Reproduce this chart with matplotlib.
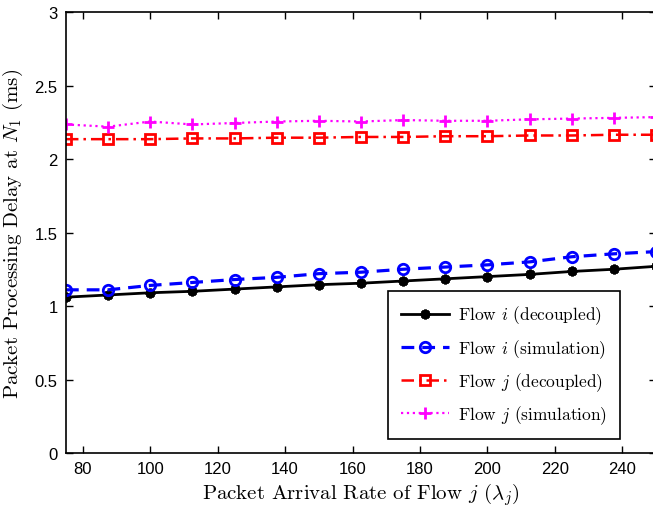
import matplotlib.pyplot as plt
import numpy as np

plt.rcParams['mathtext.fontset'] = 'cm'
plt.rcParams['axes.formatter.use_mathtext'] = False

# data
rate = [75, 87.5, 100, 112.5, 125, 137.5, 150, 162.5, 175, 187.5, 200, 212.5, 225, 237.5, 250]
flow_i_dec = [1.06, 1.075, 1.09, 1.10, 1.115, 1.13, 1.145, 1.155, 1.17, 1.185, 1.20, 1.215, 1.235, 1.25, 1.27]
flow_i_sim = [1.11, 1.11, 1.14, 1.16, 1.18, 1.195, 1.22, 1.23, 1.25, 1.265, 1.28, 1.30, 1.335, 1.355, 1.37]
flow_j_dec = [2.135, 2.135, 2.135, 2.14, 2.14, 2.145, 2.145, 2.15, 2.15, 2.155, 2.155, 2.16, 2.16, 2.165, 2.165]
flow_j_sim = [2.235, 2.22, 2.255, 2.235, 2.245, 2.255, 2.26, 2.255, 2.265, 2.26, 2.26, 2.27, 2.275, 2.28, 2.285]

xticks = [80, 100, 120, 140, 160, 180, 200, 220, 240]
yticks = [0, 0.5, 1, 1.5, 2, 2.5, 3]
ytick_labels = ['0', '0.5', '1', '1.5', '2', '2.5', '3']

fig = plt.figure(figsize=(6.53, 5.10), dpi=100)
ax = fig.add_axes([0.101, 0.1098, 0.9036, 0.8647])

ax.plot(rate, flow_i_dec, color='black', linestyle='-', linewidth=2,
        marker=(8, 2, 0), markersize=7, markeredgewidth=2, label=r'Flow $i$ (decoupled)')
ax.plot(rate, flow_i_sim, color='blue', linestyle=(0, (4, 2.5)), linewidth=2.3,
        marker='o', markersize=7.5, markerfacecolor='none', markeredgewidth=2,
        label=r'Flow $i$ (simulation)')
ax.plot(rate, flow_j_dec, color='red', linestyle=(0, (5, 2, 1, 2)), linewidth=1.8,
        marker='s', markersize=7, markerfacecolor='none', markeredgewidth=2,
        label=r'Flow $j$ (decoupled)')
ax.plot(rate, flow_j_sim, color='magenta', linestyle=':', linewidth=1.6,
        marker='+', markersize=8, markeredgewidth=2, label=r'Flow $j$ (simulation)')

ax.set_xlim(75, 250)
ax.set_ylim(0, 3)
ax.set_xticks(xticks)
ax.set_yticks(yticks)
ax.set_yticklabels(ytick_labels)
ax.tick_params(direction='in', top=True, right=True, length=5, width=1,
               labelsize=12, pad=6)
for lbl in ax.get_xticklabels() + ax.get_yticklabels():
    lbl.set_fontfamily('Liberation Sans')
for sp in ax.spines.values():
    sp.set_linewidth(1.2)

ax.set_xlabel(r'Packet Arrival Rate of Flow $j$ ($\lambda_j$)', fontfamily='cmr10', fontsize=15, labelpad=3)
ax.set_ylabel(r'Packet Processing Delay at $N_1$ (ms)', fontfamily='cmr10', fontsize=15, labelpad=7)

leg = ax.legend(loc='lower right', bbox_to_anchor=(0.939, 0.032), borderaxespad=0,
                fancybox=False, edgecolor='black', framealpha=1, handlelength=2.8,
                handletextpad=0.5, labelspacing=0.6, borderpad=0.75,
                prop={'family': 'cmr10', 'size': 12.5})
leg.get_frame().set_linewidth(1.2)

fig.savefig('out.png', dpi=100)
